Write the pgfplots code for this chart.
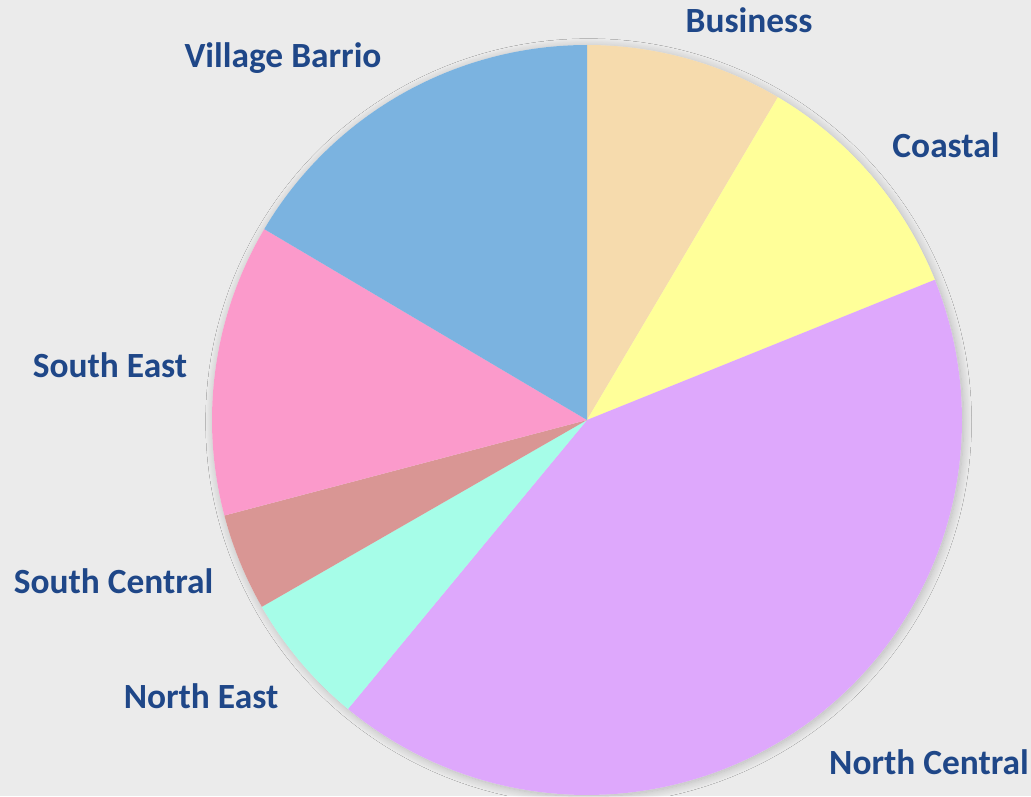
\documentclass[border=0pt]{standalone}
\usepackage{pgfplots}
\pgfplotsset{compat=1.18}
\usepackage{pgfplotstable}
\usepgfplotslibrary{polar}
\usetikzlibrary{shadows.blur}
\usepackage{fontspec}
\setmainfont{Carlito}
\definecolor{bg}{HTML}{EBEBEB}
\definecolor{lab}{HTML}{1F4788}
\definecolor{c0}{HTML}{F6DBAD}
\definecolor{c1}{HTML}{FFFF99}
\definecolor{c2}{HTML}{DEA8FC}
\definecolor{c3}{HTML}{A6FDE8}
\definecolor{c4}{HTML}{D99694}
\definecolor{c5}{HTML}{FB9ACB}
\definecolor{c6}{HTML}{7BB3E0}
\pgfplotstableread{
name value
Business 8.5
Coastal 10.4
NorthCentral 42.1
NorthEast 5.7
SouthCentral 4.2
SouthEast 12.6
VillageBarrio 16.5
}\pietable
\begin{document}
\begin{tikzpicture}
\fill[bg] (0,0) rectangle (515.5pt,398pt);
\xdef\startangle{90}
\pgfplotsforeachungrouped \i in {0,...,6}{%
  \pgfplotstablegetelem{\i}{value}\of\pietable
  \pgfmathsetmacro\endang{\startangle-3.6*\pgfplotsretval}%
  \expandafter\xdef\csname s\i\endcsname{\startangle}%
  \expandafter\xdef\csname e\i\endcsname{\endang}%
  \xdef\startangle{\endang}%
}
\begin{polaraxis}[
  at={(293.5pt,188pt)}, anchor=center,
  scale only axis, width=375pt, height=375pt,
  hide axis, xmin=0, xmax=360, ymin=0, ymax=1,
  clip=false,
]
\addplot[fill=bg, draw=none, domain=0:360, samples=181,
  blur shadow={shadow xshift=0.8pt, shadow yshift=-0.8pt, shadow blur radius=4pt, shadow blur steps=14, shadow opacity=22}] {1} -- cycle;
\pgfplotsinvokeforeach{0,...,6}{%
  \edef\lo{\csname e#1\endcsname}\edef\hi{\csname s#1\endcsname}%
  \addplot[fill=c#1, draw=none, domain=\lo:\hi, samples=90] {1} -- (axis cs:0,0) -- cycle;
}
\end{polaraxis}
\begin{scope}[every node/.style={text=lab, font=\fontsize{17.7}{21}\selectfont\bfseries, inner sep=0pt}]
\node at (374.5pt,388pt) {Business};
\node at (473pt,325.5pt) {Coastal};
\node at (464.5pt,17pt) {North Central};
\node at (100.5pt,50pt) {North East};
\node at (56.8pt,107.5pt) {South Central};
\node at (55pt,215.5pt) {South East};
\node at (141.5pt,369pt) {Village Barrio};
\end{scope}
\pgfresetboundingbox
\path (0,0) rectangle (515.5pt,398pt);
\end{tikzpicture}
\end{document}
